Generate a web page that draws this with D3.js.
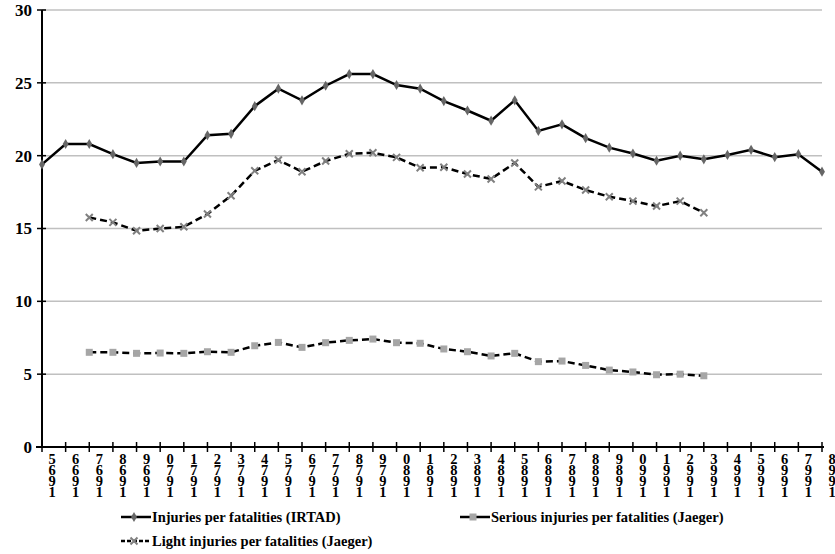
<!DOCTYPE html>
<html>
<head>
<meta charset="utf-8">
<script src="https://cdn.jsdelivr.net/npm/d3@7"></script>
<style>
  body { margin: 0; background: #fff; }
  svg text { font-family: "Liberation Serif", "Times New Roman", serif; font-weight: bold; fill: #000; }
</style>
</head>
<body>
<svg id="chart" width="835" height="554"></svg>
<script>

// years on the category axis
let annees = d3.range(1965, 1999);

// Injuries per fatalities (IRTAD), 1965-1998
let irtad = [19.4, 20.8, 20.8, 20.1, 19.5, 19.6, 19.6, 21.4, 21.5, 23.4,
             24.6, 23.8, 24.8, 25.6, 25.6, 24.85, 24.6, 23.75, 23.1, 22.4,
             23.8, 21.7, 22.15, 21.2, 20.55, 20.15, 19.65, 20.0, 19.75, 20.05,
             20.4, 19.9, 20.1, 18.9];

// Serious injuries per fatalities (Jaeger), 1967-1993
let serious = [6.5, 6.5, 6.43, 6.45, 6.43, 6.54, 6.5, 6.95, 7.18, 6.84,
               7.16, 7.32, 7.41, 7.16, 7.12, 6.73, 6.54, 6.25, 6.43, 5.86,
               5.9, 5.6, 5.28, 5.15, 4.96, 5.0, 4.89];

// Light injuries per fatalities (Jaeger), 1967-1993
let light = [15.76, 15.42, 14.85, 15.0, 15.12, 15.99, 17.25, 18.96, 19.7, 18.9,
             19.63, 20.13, 20.2, 19.88, 19.17, 19.2, 18.74, 18.4, 19.5, 17.86,
             18.26, 17.64, 17.18, 16.88, 16.54, 16.88, 16.08];

let yTicks = [0, 5, 10, 15, 20, 25, 30];

let svg = d3.select("#chart");

let x = d3.scaleLinear()
    .domain([0, annees.length - 1])
    .range([42, 822]);

let y = d3.scaleLinear()
    .domain([0, 30])
    .range([447, 10]);

// gridlines
svg.append("g")
  .selectAll("line")
  .data(yTicks.filter(d => d > 0))
  .enter()
  .append("line")
  .attr("x1", x(0))
  .attr("x2", x(annees.length - 1))
  .attr("y1", d => y(d))
  .attr("y2", d => y(d))
  .style("stroke", "#c0c0c0")
  .style("stroke-width", 1.5);

// y axis
let axeY = svg.append("g")
  .attr("transform", `translate(${x(0)},0)`)
  .call(d3.axisLeft(y).tickValues(yTicks).tickSize(0).tickPadding(10));
axeY.select(".domain").remove();
axeY.selectAll("text").style("font-size", "17px");
svg.append("line")
  .attr("x1", x(0)).attr("x2", x(0))
  .attr("y1", y(30)).attr("y2", y(0) + 1)
  .style("stroke", "#000").style("stroke-width", 2);
svg.append("g")
  .selectAll("line")
  .data(yTicks)
  .enter()
  .append("line")
  .attr("x1", x(0) - 5).attr("x2", x(0) + 4)
  .attr("y1", d => y(d)).attr("y2", d => y(d))
  .style("stroke", "#000").style("stroke-width", 1.5);

// x axis
svg.append("line")
  .attr("x1", x(0) - 6).attr("x2", x(annees.length - 1) + 2)
  .attr("y1", y(0)).attr("y2", y(0))
  .style("stroke", "#000").style("stroke-width", 2);
svg.append("g")
  .selectAll("line")
  .data(annees)
  .enter()
  .append("line")
  .attr("x1", (d, i) => x(i)).attr("x2", (d, i) => x(i))
  .attr("y1", y(0) - 5).attr("y2", y(0) + 5)
  .style("stroke", "#000").style("stroke-width", 1.5);

// year labels: digits stacked upright, last digit on top
svg.append("g")
  .selectAll("text")
  .data(annees)
  .enter()
  .append("text")
  .attr("x", (d, i) => x(i) + 10)
  .attr("y", 451)
  .style("writing-mode", "vertical-rl")
  .style("text-orientation", "upright")
  .style("letter-spacing", "-5px")
  .style("font-size", "14.5px")
  .text(d => String(d).split("").reverse().join(""));

// series
let series = [
  {nom: "Injuries per fatalities (IRTAD)", valeurs: irtad, debut: 0, dash: null, legDash: null, marker: "diamond", couleur: "#666"},
  {nom: "Serious injuries per fatalities (Jaeger)", valeurs: serious, debut: 2, dash: "7,4", legDash: null, marker: "square", couleur: "#a6a6a6"},
  {nom: "Light injuries per fatalities (Jaeger)", valeurs: light, debut: 2, dash: "7,4", legDash: "4,2", marker: "cross", couleur: "#808080"}
];

let ligne = d3.line()
  .x(d => x(d.i))
  .y(d => y(d.v));

function dessinMarker(g, type, couleur) {
  if (type === "diamond") {
    g.append("path")
      .attr("d", d3.symbol().type(d3.symbolDiamond).size(30))
      .style("fill", couleur);
  } else if (type === "square") {
    g.append("rect")
      .attr("x", -3.5).attr("y", -3.5)
      .attr("width", 7).attr("height", 7)
      .style("fill", couleur);
  } else {
    g.append("path")
      .attr("d", "M-3.5,-3.5L3.5,3.5M-3.5,3.5L3.5,-3.5")
      .style("stroke", couleur)
      .style("stroke-width", 2);
  }
}

series.forEach(s => {
  let pts = s.valeurs.map((v, k) => ({i: k + s.debut, v: v}));
  svg.append("path")
    .datum(pts)
    .attr("d", ligne)
    .style("fill", "none")
    .style("stroke", "#000")
    .style("stroke-width", 2.5)
    .style("stroke-dasharray", s.dash);
  svg.append("g")
    .selectAll("g")
    .data(pts)
    .enter()
    .append("g")
    .attr("transform", d => `translate(${x(d.i)},${y(d.v)})`)
    .each(function() { dessinMarker(d3.select(this), s.marker, s.couleur); });
});

// legend
let legendePos = [[121, 517], [460, 517], [121, 541]];
series.forEach((s, k) => {
  let g = svg.append("g")
    .attr("transform", `translate(${legendePos[k][0]},${legendePos[k][1]})`);
  g.append("line")
    .attr("x1", 0).attr("x2", 30)
    .attr("y1", 0).attr("y2", 0)
    .style("stroke", "#000")
    .style("stroke-width", 2.5)
    .style("stroke-dasharray", s.legDash);
  dessinMarker(g.append("g").attr("transform", "translate(13,0)"), s.marker, s.couleur);
  g.append("text")
    .attr("x", 31)
    .attr("y", 5)
    .style("font-size", "14.5px")
    .text(s.nom);
});

</script>
</body>
</html>
